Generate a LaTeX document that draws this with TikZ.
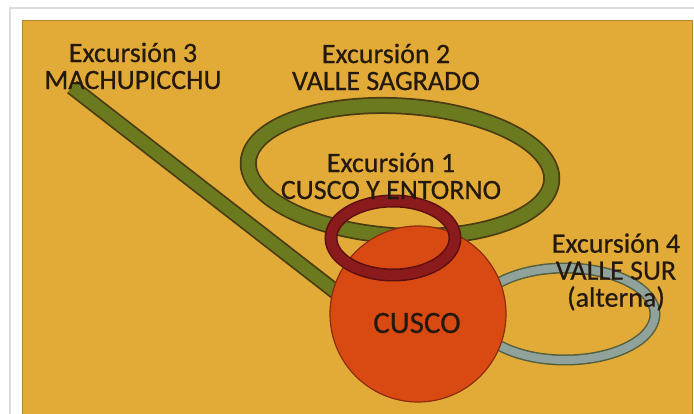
\documentclass[tikz,border=0pt]{standalone}
\usepackage{fontspec}
\setmainfont{Carlito}
\newfontfamily\lblfont{Carlito}[FakeBold=0.5]
\definecolor{bgorange}{HTML}{E2AA36}
\definecolor{edgeorange}{HTML}{B4872C}
\definecolor{olive}{HTML}{6B7A1E}
\definecolor{olivedark}{HTML}{4A3C12}
\definecolor{ringred}{HTML}{8B1A1C}
\definecolor{ringdark}{HTML}{5C0E10}
\definecolor{cuscofill}{HTML}{D84A12}
\definecolor{cuscodark}{HTML}{8C2C0C}
\definecolor{grayband}{HTML}{8FA39C}
\definecolor{graydark}{HTML}{55603F}
\definecolor{txt}{HTML}{24190F}
\definecolor{framegray}{HTML}{DCDCDC}
\tikzset{
  lbl/.style={text=txt, align=center, inner sep=0pt, font=\lblfont\fontsize{28}{27}\selectfont},
}
\begin{document}
\begin{tikzpicture}[x=1pt,y=-1pt]
\useasboundingbox (0,0) rectangle (694,414);
\fill[white] (0,0) rectangle (694,414);
\draw[framegray, line width=1.2pt] (10,420) -- (10,8) -- (700,8);
\fill[bgorange] (22,20) rectangle (692,420);
\draw[edgeorange, line width=0.8pt] (22,420) -- (22,20) -- (692,20) -- (692,420);
% Excursion 3 line
\coordinate (l3a) at (72,87);
\coordinate (l3b) at (345,299);
\draw[olivedark, line width=16pt] (l3a) -- (l3b);
\draw[olive, line width=12.5pt] (l3a) -- (l3b);
% Excursion 2 ellipse
\draw[olivedark, line width=17pt, rotate around={-3.5:(400,171)}] (400,171) ellipse [x radius=152, y radius=65];
\draw[olive, line width=13.5pt, rotate around={-3.5:(400,171)}] (400,171) ellipse [x radius=152, y radius=65];
% Excursion 4 ellipse
\draw[graydark, line width=11pt] (565,314) ellipse [x radius=90, y radius=46];
\draw[grayband, line width=8pt] (565,314) ellipse [x radius=90, y radius=46];
% Cusco
\node[circle, minimum size=176pt, inner sep=0pt, fill=cuscofill, draw=cuscodark, line width=1.2pt] (cusco) at (418,314) {};
% Excursion 1 ring
\draw[ringdark, line width=13pt] (393,238) ellipse [x radius=62, y radius=37];
\draw[ringred, line width=10pt] (393,238) ellipse [x radius=62, y radius=37];
% Labels
\node[lbl] (ex3) at (133,66) {Excursión 3\\MACHUPICCHU};
\node[lbl] (ex2) at (386,67) {Excursión 2\\VALLE SAGRADO};
\node[lbl] (ex1) at (391,176) {Excursión 1\\CUSCO Y ENTORNO};
\node[lbl] (ex4) at (616,272) {Excursión 4\\VALLE SUR\\(alterna)};
\node[text=txt, inner sep=0pt, font=\lblfont\fontsize{31}{31}\selectfont] (cuscotxt) at (417,323) {CUSCO};
\end{tikzpicture}
\end{document}
